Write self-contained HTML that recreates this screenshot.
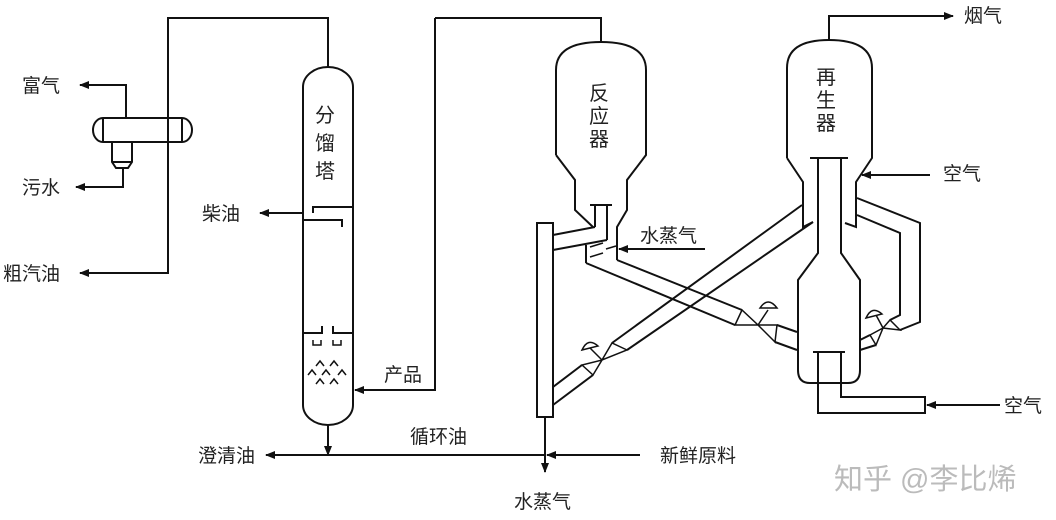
<!DOCTYPE html>
<html><head><meta charset="utf-8"><style>
html,body{margin:0;padding:0;background:#fff;}
svg{display:block;}
text{font-family:"Liberation Sans","Noto Sans CJK SC",sans-serif;font-size:19px;fill:#222;}
</style></head><body>
<svg width="1056" height="520" viewBox="0 0 1056 520" xmlns="http://www.w3.org/2000/svg">
<defs><marker id="a" markerWidth="10" markerHeight="8" refX="9" refY="4" orient="auto" markerUnits="userSpaceOnUse"><path d="M0,0 L10,4 L0,8 z" fill="#111"/></marker></defs>
<g fill="none" stroke="#111" stroke-width="2">
<path d="M303,87 A25,20 0 0 1 353,87 L353,405 A25,20 0 0 1 303,405 Z"/>
<path d="M328,68 V18 H168 V273 H80" marker-end="url(#a)"/>
<path d="M303,213 H260" marker-end="url(#a)"/>
<path d="M313,213 V207 H353 M303,220 H342 V227"/>
<path d="M303,333 H322 V326 M333,326 V333 H353"/>
<path d="M313,340 V345 H321 V340 M333,340 V345 H341 V340" stroke-width="1.5"/>
<g stroke-width="1.5"><path d="M316,366 l4,-5 l4,5 M330,366 l4,-5 l4,5 M308,375 l4,-5 l4,5 M322,375 l4,-5 l4,5 M338,375 l4,-5 l4,5 M316,384 l4,-5 l4,5 M330,384 l4,-5 l4,5"/></g>
<path d="M103,118 H182 A10,12 0 0 1 182,142 H103 A10,12 0 0 1 103,118 Z M103,118 V142 M182,118 V142"/>
<path d="M112,142 V162 L116,168 H128 L132,162 V142 M112,162 H132"/>
<path d="M126,118 V85 H80" marker-end="url(#a)"/>
<path d="M123,168 V187 H76" marker-end="url(#a)"/>
<path d="M435,18 H601 V42"/>
<path d="M435,18 V390 H355" marker-end="url(#a)"/>
<path d="M328,424 V455" marker-end="url(#a)"/>
<path d="M545,455 H266" marker-end="url(#a)"/>
<path d="M640,455 H547" marker-end="url(#a)"/>
<path d="M545,417 V472" marker-end="url(#a)"/>
<path d="M556,155 V70 Q556,42 601,42 Q646,42 646,70 V155 L627,180 V210 L617,227 V260"/>
<path d="M556,155 L575,180 V210 L593,227"/>
<path d="M590,205 H612 M595,205 V227 M607,205 V240"/>
<rect x="537" y="223" width="16" height="194"/>
<path d="M553,235 L595,227 M553,250 L607,240"/>
<path d="M586,245 V263"/>
<path d="M590,247 L603,243 M590,257 L603,253 M606,249 L616,246" stroke-width="1.5"/>
<path d="M705,249 H619" marker-end="url(#a)"/>
<path d="M617,260 L742,310 M586,263 L735,325"/>
<path d="M742,310 L735,325 L758,325 Z M777,325 L775,342 L758,325 Z" stroke-width="1.5"/>
<path d="M777,325 L797,332 M775,342 L797,350"/>
<path d="M758,325 L768,310 M760,308 Q768,296 777,308 Z" stroke-width="1.5"/>
<path d="M802,205 L612,343 M813,222 L627,350"/>
<path d="M627,350 L612,343 L602,360 Z M582,365 L593,375 L602,360 Z" stroke-width="1.5"/>
<path d="M582,365 L553,387 M593,375 L553,405"/>
<path d="M602,360 L590,348 M582,350 Q588,337 598,346 Z" stroke-width="1.5"/>
<path d="M787,158 V68 Q787,40 829,40 Q872,40 872,68 V158 L856,182 V227 L845,223"/>
<path d="M787,158 L803,182 V227 L813,222"/>
<path d="M829,40 V16 H953" marker-end="url(#a)"/>
<path d="M930,175 H862" marker-end="url(#a)"/>
<path d="M810,158 H848 M818,158 V253 L798,280 V370 Q798,383 810,383 H848 Q860,383 860,370 V280 L841,253 V158"/>
<path d="M813,352 H845 M818,352 V413 H925 V397 H841 V352"/>
<path d="M1000,405 H927" marker-end="url(#a)"/>
<path d="M857,198 L920,223 V322 L900,330 M857,215 L900,233 V315 L890,320"/>
<path d="M900,330 L890,320 L883,328 Z M870,335 L876,345 L883,328 Z" stroke-width="1.5"/>
<path d="M870,335 L860,340 M876,345 L860,350"/>
<path d="M883,328 L876,315 M866,318 Q872,305 882,314 Z" stroke-width="1.5"/>
</g>
<text x="315" y="122" style="font-size:20px">分</text>
<text x="315" y="150" style="font-size:20px">馏</text>
<text x="315" y="178" style="font-size:20px">塔</text>
<text x="589" y="100" style="font-size:20px">反</text>
<text x="589" y="123" style="font-size:20px">应</text>
<text x="589" y="146" style="font-size:20px">器</text>
<text x="816" y="84" style="font-size:20px">再</text>
<text x="816" y="107" style="font-size:20px">生</text>
<text x="816" y="130" style="font-size:20px">器</text>
<text x="22" y="92">富气</text>
<text x="22" y="194">污水</text>
<text x="3" y="280">粗汽油</text>
<text x="202" y="220">柴油</text>
<text x="384" y="381">产品</text>
<text x="198" y="462">澄清油</text>
<text x="410" y="443">循环油</text>
<text x="660" y="462">新鲜原料</text>
<text x="514" y="508">水蒸气</text>
<text x="640" y="242">水蒸气</text>
<text x="964" y="22">烟气</text>
<text x="943" y="180">空气</text>
<text x="1004" y="412">空气</text>
<text x="834" y="489" style="font-size:29px;fill:#bbb">知乎 @李比烯</text>
</svg>
</body></html>
